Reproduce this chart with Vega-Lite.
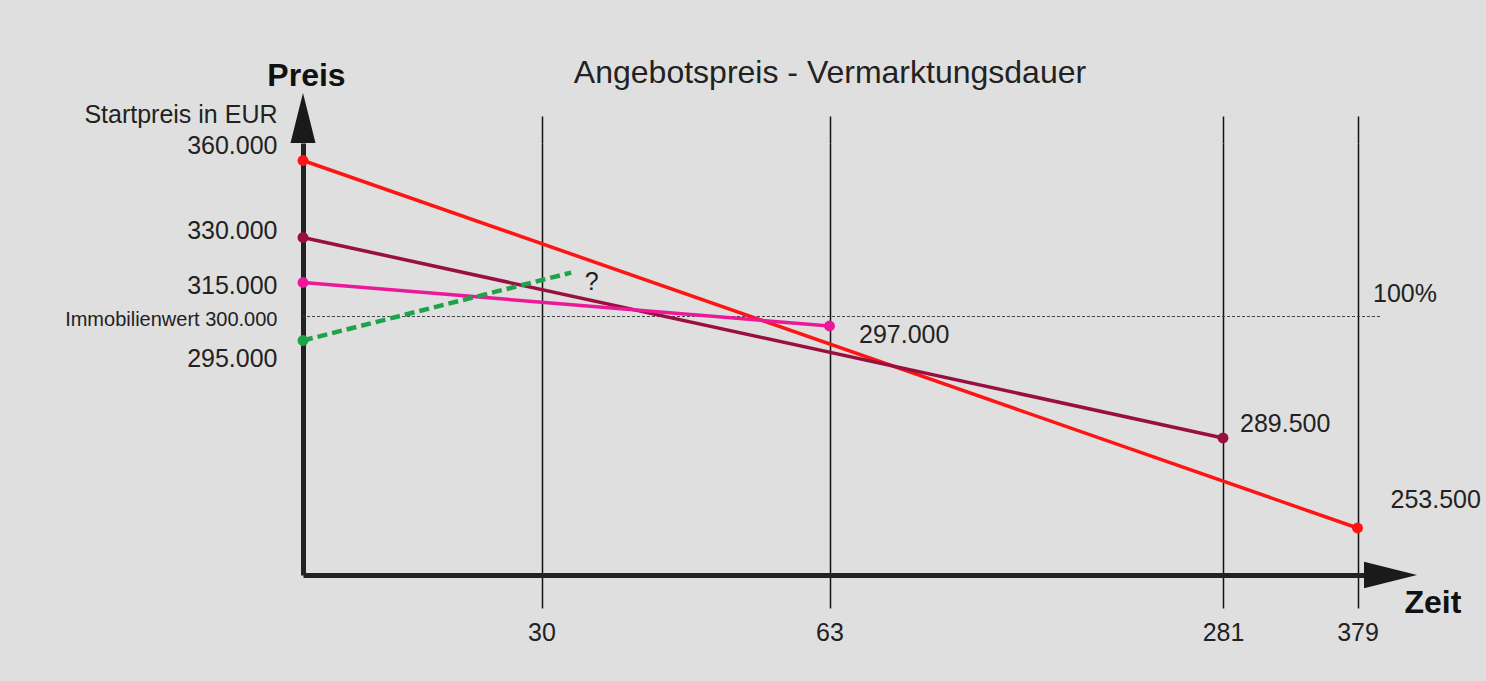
{
  "$schema": "https://vega.github.io/schema/vega-lite/v6.json",
  "autosize": {"type": "none"},
  "width": 1077,
  "height": 432,
  "padding": {"left": 303, "top": 143, "right": 106, "bottom": 106},
  "background": "#dfdfdf",
  "config": {
    "font": "Liberation Sans",
    "view": {"stroke": null},
    "text": {"font": "Liberation Sans", "fontSize": 25, "color": "#222222"}
  },
  "title": {
    "text": "Angebotspreis - Vermarktungsdauer",
    "font": "Liberation Sans",
    "fontSize": 32,
    "fontWeight": "normal",
    "color": "#222222",
    "anchor": "middle",
    "frame": "group",
    "baseline": "alphabetic",
    "dx": -11.5,
    "dy": 56,
    "offset": 0
  },
  "datasets": {
    "offers": [
      {"offer": "A", "day": 0, "price": 360000, "label": ""},
      {"offer": "A", "day": 379, "price": 253500, "label": "253.500"},
      {"offer": "B", "day": 0, "price": 330000, "label": ""},
      {"offer": "B", "day": 281, "price": 289500, "label": "289.500"},
      {"offer": "C", "day": 0, "price": 315000, "label": ""},
      {"offer": "C", "day": 63, "price": 297000, "label": "297.000"},
      {"offer": "D", "day": 0, "price": 295000, "label": ""},
      {"offer": "D", "day": 33.4, "price": 318300, "label": "?"}
    ],
    "reference": [
      {"price": 300000, "label": "100%"}
    ]
  },
  "resolve": {"axis": {"x": "independent"}},
  "layer": [
    {
      "data": {"name": "reference"},
      "mark": {"type": "rule", "color": "#444444", "strokeWidth": 1.2, "strokeDash": [3, 2]},
      "encoding": {
        "y": {
          "field": "price",
          "type": "quantitative",
          "scale": {
            "domain": [235000, 253500, 289500, 295000, 297000, 300000, 315000, 330000, 360000, 367000],
            "range": [432, 385, 295, 197.5, 183, 173.5, 139.5, 94.5, 17.5, 0],
            "nice": false,
            "zero": false
          },
          "axis": {
            "values": [360000, 330000, 315000, 300000, 295000],
            "orient": "left",
            "grid": false,
            "ticks": false,
            "domain": true,
            "domainColor": "#222222",
            "domainWidth": 5,
            "labelFont": "Liberation Sans",
            "labelColor": "#222222",
            "labelFontSize": {"condition": {"test": "datum.value == 300000", "value": 20}, "value": 25},
            "labelExpr": "datum.value == 300000 ? 'Immobilienwert 300.000' : replace(format(datum.value, ','), ',', '.')",
            "labelBaseline": "middle",
            "labelAlign": "right",
            "labelPadding": 26,
            "labelLimit": 500,
            "labelOverlap": false,
            "labelBound": false,
            "labelFlush": false,
            "labelOffset": {"expr": "datum.value == 360000 ? -15 : datum.value == 330000 ? -7 : datum.value == 315000 ? 3 : datum.value == 300000 ? 3 : 18"},
            "title": "Preis",
            "titleFont": "Liberation Sans",
            "titleFontSize": 32,
            "titleFontWeight": "bold",
            "titleColor": "#111111",
            "titleAngle": 0,
            "titleAlign": "center",
            "titleBaseline": "alphabetic",
            "titleX": 3,
            "titleY": -58
          }
        }
      }
    },
    {
      "data": {"name": "reference"},
      "mark": {"type": "text", "align": "left", "baseline": "alphabetic", "dx": -7, "dy": -14.5},
      "encoding": {
        "x": {"value": "width"},
        "y": {"field": "price", "type": "quantitative"},
        "text": {"field": "label"}
      }
    },
    {
      "data": {"name": "offers"},
      "transform": [{"filter": "datum.offer != 'D'"}],
      "mark": {"type": "line", "strokeWidth": 3.5},
      "encoding": {
        "x": {
          "field": "day",
          "type": "quantitative",
          "scale": {
            "domain": [0, 30, 63, 281, 379, 400],
            "range": [0, 238.5, 526.5, 920, 1054.5, 1077],
            "nice": false,
            "zero": false
          },
          "axis": {
            "orient": "bottom",
            "values": [30, 63, 281, 379],
            "domain": true,
            "domainColor": "#222222",
            "domainWidth": 5,
            "ticks": true,
            "tickSize": 33,
            "tickColor": "#111111",
            "tickWidth": 1.5,
            "grid": true,
            "gridColor": "#111111",
            "gridWidth": 1.5,
            "gridOpacity": 1,
            "labelFont": "Liberation Sans",
            "labelFontSize": 25,
            "labelColor": "#222222",
            "labelPadding": 12,
            "labelFlush": false,
            "labelOverlap": false,
            "title": "Zeit",
            "titleFont": "Liberation Sans",
            "titleFontSize": 32,
            "titleFontWeight": "bold",
            "titleColor": "#111111",
            "titleAlign": "left",
            "titleBaseline": "alphabetic",
            "titleAngle": 0,
            "titleX": 1101,
            "titleY": 37
          }
        },
        "y": {"field": "price", "type": "quantitative"},
        "color": {
          "field": "offer",
          "type": "nominal",
          "scale": {"domain": ["A", "B", "C", "D"], "range": ["#ff1414", "#990f40", "#ec1898", "#1ea34a"]},
          "legend": null
        }
      }
    },
    {
      "data": {"name": "offers"},
      "transform": [{"filter": "datum.offer == 'D'"}],
      "mark": {"type": "line", "strokeWidth": 4.5, "strokeDash": [10, 5]},
      "encoding": {
        "x": {"field": "day", "type": "quantitative", "axis": null},
        "y": {"field": "price", "type": "quantitative"},
        "color": {"field": "offer", "type": "nominal", "legend": null}
      }
    },
    {
      "data": {"name": "offers"},
      "transform": [{"filter": "datum.offer != 'D' || datum.day == 0"}],
      "mark": {"type": "circle", "size": 120, "opacity": 1},
      "encoding": {
        "x": {
          "field": "day",
          "type": "quantitative",
          "axis": {
            "orient": "top",
            "values": [30, 63, 281, 379],
            "domain": false,
            "grid": false,
            "labels": false,
            "ticks": true,
            "tickSize": 27,
            "tickColor": "#111111",
            "tickWidth": 1.5,
            "title": "Startpreis in EUR",
            "titleFont": "Liberation Sans",
            "titleFontSize": 25,
            "titleFontWeight": "normal",
            "titleColor": "#222222",
            "titleAlign": "right",
            "titleBaseline": "alphabetic",
            "titleAngle": 0,
            "titleX": -26,
            "titleY": -21
          }
        },
        "y": {"field": "price", "type": "quantitative"},
        "color": {"field": "offer", "type": "nominal", "legend": null}
      }
    },
    {
      "data": {"name": "offers"},
      "transform": [{"filter": "datum.offer == 'A' && datum.day > 0"}],
      "mark": {"type": "text", "align": "left", "baseline": "alphabetic", "dx": 33, "dy": -20},
      "encoding": {
        "x": {"field": "day", "type": "quantitative", "axis": null},
        "y": {"field": "price", "type": "quantitative"},
        "text": {"field": "label"}
      }
    },
    {
      "data": {"name": "offers"},
      "transform": [{"filter": "datum.offer == 'B' && datum.day > 0"}],
      "mark": {"type": "text", "align": "left", "baseline": "alphabetic", "dx": 17, "dy": -6},
      "encoding": {
        "x": {"field": "day", "type": "quantitative", "axis": null},
        "y": {"field": "price", "type": "quantitative"},
        "text": {"field": "label"}
      }
    },
    {
      "data": {"name": "offers"},
      "transform": [{"filter": "datum.offer == 'C' && datum.day > 0"}],
      "mark": {"type": "text", "align": "left", "baseline": "alphabetic", "dx": 29.5, "dy": 17},
      "encoding": {
        "x": {"field": "day", "type": "quantitative", "axis": null},
        "y": {"field": "price", "type": "quantitative"},
        "text": {"field": "label"}
      }
    },
    {
      "data": {"name": "offers"},
      "transform": [{"filter": "datum.offer == 'D' && datum.day > 0"}],
      "mark": {"type": "text", "align": "left", "baseline": "alphabetic", "dx": 13.5, "dy": 17},
      "encoding": {
        "x": {"field": "day", "type": "quantitative", "axis": null},
        "y": {"field": "price", "type": "quantitative"},
        "text": {"field": "label"}
      }
    },
    {
      "data": {"values": [{"axis": "Preis"}]},
      "mark": {"type": "point", "shape": "M-0.5,1L0,-1L0.5,1Z", "size": 2500, "filled": true, "color": "#1a1a1a", "opacity": 1, "yOffset": -25},
      "encoding": {
        "x": {"value": 0},
        "y": {"value": 0}
      }
    },
    {
      "data": {"values": [{"axis": "Zeit"}]},
      "mark": {"type": "point", "shape": "M-1,-0.5L1,0L-1,0.5Z", "size": 2809, "filled": true, "color": "#1a1a1a", "opacity": 1, "xOffset": 10.5},
      "encoding": {
        "x": {"value": "width"},
        "y": {"value": "height"}
      }
    }
  ]
}
